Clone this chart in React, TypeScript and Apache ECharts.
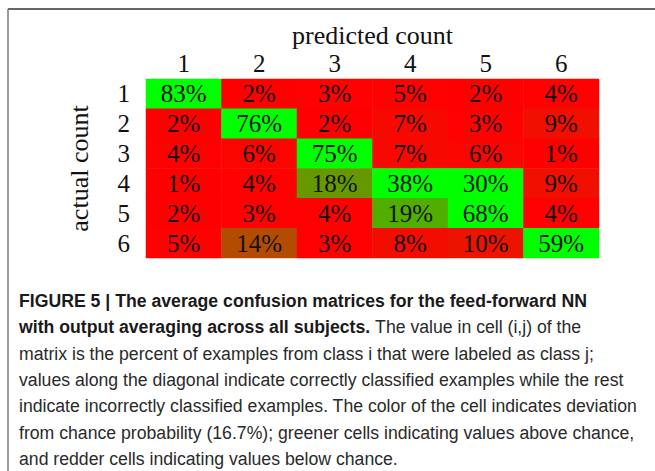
import React, { useEffect, useRef } from "react";
import * as echarts from "echarts";

const predictedLabels = ["1", "2", "3", "4", "5", "6"];
const actualLabels = ["1", "2", "3", "4", "5", "6"];
const row1 = [83, 2, 3, 5, 2, 4];
const row2 = [2, 76, 2, 7, 3, 9];
const row3 = [4, 6, 75, 7, 6, 1];
const row4 = [1, 4, 18, 38, 30, 9];
const row5 = [2, 3, 4, 19, 68, 4];
const row6 = [5, 14, 3, 8, 10, 59];
const matrix = [row1, row2, row3, row4, row5, row6];

const xAxisTitle = "predicted count";
const yAxisTitle = "actual count";

const captionLines: { bold: string; regular: string }[] = [
  { bold: "FIGURE 5 | The average confusion matrices for the feed-forward NN", regular: "" },
  { bold: "with output averaging across all subjects.", regular: " The value in cell (i,j) of the" },
  { bold: "", regular: "matrix is the percent of examples from class i that were labeled as class j;" },
  { bold: "", regular: "values along the diagonal indicate correctly classified examples while the rest" },
  { bold: "", regular: "indicate incorrectly classified examples. The color of the cell indicates deviation" },
  { bold: "", regular: "from chance probability (16.7%); greener cells indicating values above chance," },
  { bold: "", regular: "and redder cells indicating values below chance." },
];

// color stops (every 5%) for deviation from chance
const colorStops = [
  "#ff0000", "#fe0100", "#ec1300", "#a55a00", "#3cc300", "#0af500", "#00ff00",
  "#00ff00", "#00ff00", "#00ff00", "#00ff00", "#00ff00", "#00ff00", "#00ff00",
  "#00ff00", "#00ff00", "#00ff00", "#00ff00", "#00ff00",
];

const SERIF = "'Liberation Serif', 'DejaVu Serif', serif";
const SANS = "'Liberation Sans', Arial, sans-serif";

export default function App() {
  const ref = useRef<HTMLDivElement>(null);
  useEffect(() => {
    if (!ref.current) return;
    const chart = echarts.init(ref.current, null, { renderer: "svg" });
    const data: number[][] = [];
    matrix.forEach((row, r) => row.forEach((v, c) => data.push([c, r, v])));

    const captionTop = 300;
    const lineH = 26.4;
    const captionGraphics = captionLines.map((ln, i) => {
      let text = "";
      if (ln.bold) text += `{b|${ln.bold}}`;
      if (ln.regular) text += `{r|${ln.regular}}`;
      return {
        type: "text",
        x: 19,
        y: captionTop + i * lineH,
        scaleX: 0.93,
        style: {
          text,
          verticalAlign: "middle",
          align: "left",
          rich: {
            b: { fontFamily: SANS, fontSize: 19, fontWeight: "bold", fill: "#1a1a1a" },
            r: { fontFamily: SANS, fontSize: 19, fontWeight: "normal", fill: "#2a2a2a" },
          },
        },
      };
    });

    chart.setOption({
      animation: false,
      backgroundColor: "#ffffff",
      grid: { left: 146, top: 79, width: 453, height: 179, containLabel: false },
      xAxis: {
        type: "category",
        position: "top",
        data: predictedLabels,
        name: xAxisTitle,
        nameLocation: "middle",
        nameGap: 31,
        nameTextStyle: { fontFamily: SERIF, fontSize: 26, color: "#111" },
        axisLine: { show: false },
        axisTick: { show: false },
        splitLine: { show: false },
        axisLabel: { fontFamily: SERIF, fontSize: 25, color: "#111", margin: 3, interval: 0 },
      },
      yAxis: {
        type: "category",
        inverse: true,
        data: actualLabels,
        name: yAxisTitle,
        nameLocation: "middle",
        nameGap: 54,
        nameRotate: 90,
        nameTextStyle: { fontFamily: SERIF, fontSize: 26, color: "#111" },
        axisLine: { show: false },
        axisTick: { show: false },
        splitLine: { show: false },
        axisLabel: { fontFamily: SERIF, fontSize: 25, color: "#111", margin: 16, interval: 0 },
      },
      visualMap: {
        show: false,
        type: "continuous",
        min: 0,
        max: 90,
        dimension: 2,
        inRange: { color: colorStops },
      },
      series: [
        {
          type: "heatmap",
          data,
          label: {
            show: true,
            formatter: (p: any) => `${p.value[2]}%`,
            fontFamily: SERIF,
            fontSize: 25,
            color: "#111",
          },
          itemStyle: { borderWidth: 0 },
          emphasis: { disabled: true },
        },
      ],
      graphic: [
        { type: "line", shape: { x1: 8, y1: 9, x2: 655, y2: 9 }, style: { stroke: "#333", lineWidth: 1.5 } },
        { type: "line", shape: { x1: 8, y1: 9, x2: 8, y2: 471 }, style: { stroke: "#777", lineWidth: 1.5 } },
        ...captionGraphics,
      ],
    });
    return () => chart.dispose();
  }, []);
  return (
    <div
      ref={ref}
      style={{ position: "fixed", left: 0, top: 0, width: 655, height: 471, background: "#fff" }}
    />
  );
}
